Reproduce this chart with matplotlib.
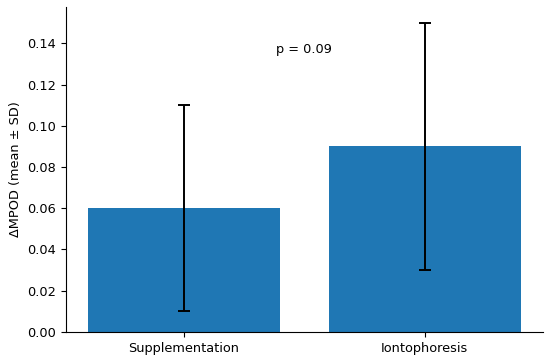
import matplotlib.pyplot as plt

groups = ['Supplementation', 'Iontophoresis']
means = [0.06, 0.09]
sds = [0.05, 0.06]
p_label = 'p = 0.09'

plt.rcParams['font.size'] = 9.3

fig, ax = plt.subplots(figsize=(5.5, 3.6), dpi=100)
fig.subplots_adjust(left=0.12, right=0.987, bottom=0.078, top=0.98)
ax.bar(groups, means, yerr=sds, capsize=4.5, color='#1f77b4',
       error_kw=dict(ecolor='black', elinewidth=1.4, capthick=1.4))
ax.set_ylabel('ΔMPOD (mean ± SD)')
ax.text(0.5, 0.137, p_label, ha='center', va='center')
ax.spines['top'].set_visible(False)
ax.spines['right'].set_visible(False)
plt.savefig('out.png')
